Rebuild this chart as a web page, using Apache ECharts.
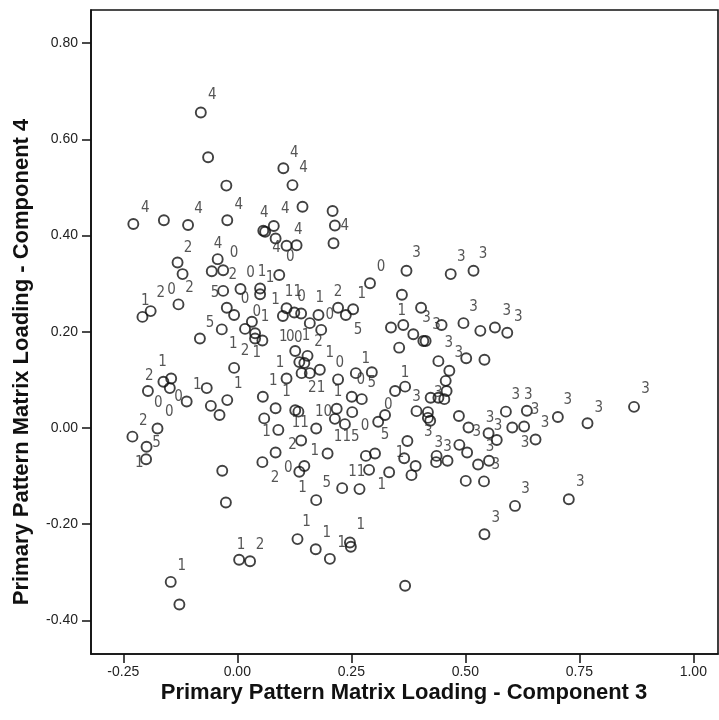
<!DOCTYPE html>
<html><head><meta charset="utf-8">
<script src="https://cdn.jsdelivr.net/npm/echarts@6/dist/echarts.min.js"></script>
<style>html,body{margin:0;padding:0;background:#fff}#c{width:719px;height:720px}</style>
</head><body><div id="c"></div>
<script>
const xTickValues = [-0.25, 0, 0.25, 0.5, 0.75, 1.0];
const yTickValues = [-0.4, -0.2, 0, 0.2, 0.4, 0.6, 0.8];
const xTitle = "Primary Pattern Matrix Loading - Component 3";
const yTitle = "Primary Pattern Matrix Loading - Component 4";

const xValues = [-0.080,-0.064,-0.024,-0.228,-0.161,-0.108,-0.022,0.101,0.121,0.143,
0.057,0.061,0.080,0.084,0.108,0.130,-0.131,-0.043,0.209,0.214,
0.211,-0.120,-0.056,-0.031,0.092,-0.208,-0.190,-0.129,-0.031,0.007,
0.050,0.050,-0.023,-0.007,0.032,0.017,0.039,0.039,0.055,-0.034,
-0.082,0.108,0.100,0.125,0.140,0.127,-0.007,-0.162,-0.145,-0.148,
-0.196,-0.111,-0.067,-0.022,-0.058,-0.039,0.056,0.084,0.059,0.108,
0.141,0.136,-0.175,-0.230,0.090,0.127,0.134,0.371,0.468,0.518,
0.291,0.361,0.221,0.238,0.254,0.178,0.159,0.184,0.364,0.337,
0.403,0.448,0.496,0.533,0.386,0.408,0.413,0.355,0.502,0.542,
0.441,0.154,0.147,0.159,0.181,0.221,0.260,0.295,0.368,0.346,
0.465,0.457,0.459,0.441,0.424,0.454,0.251,0.273,0.218,0.214,
0.252,0.236,0.324,0.309,0.393,0.418,0.418,0.423,0.486,0.507,
0.173,0.565,0.592,0.589,0.635,0.703,0.768,0.870,0.603,0.629,
0.551,0.654,-0.199,-0.200,-0.033,-0.025,0.004,0.028,-0.146,-0.127,
0.055,0.084,0.136,0.140,0.132,0.198,0.147,0.173,0.230,0.268,
0.289,0.282,0.302,0.333,0.373,0.366,0.391,0.382,0.437,0.436,
0.461,0.487,0.504,0.528,0.501,0.541,0.172,0.203,0.247,0.249,
0.368,0.542,0.569,0.552,0.609,0.727];
const yValues = [0.656,0.563,0.504,0.424,0.432,0.422,0.432,0.540,0.505,0.460,
0.410,0.408,0.420,0.394,0.379,0.380,0.344,0.351,0.451,0.421,
0.384,0.320,0.326,0.328,0.318,0.231,0.243,0.257,0.285,0.289,
0.290,0.278,0.250,0.235,0.221,0.206,0.197,0.186,0.182,0.205,
0.186,0.249,0.233,0.240,0.238,0.160,0.125,0.096,0.103,0.083,
0.077,0.055,0.083,0.058,0.046,0.027,0.065,0.041,0.020,0.103,
0.114,0.137,-0.001,-0.018,-0.004,0.037,0.034,0.327,0.320,0.327,
0.301,0.277,0.250,0.235,0.247,0.235,0.218,0.204,0.214,0.209,
0.250,0.214,0.218,0.202,0.195,0.181,0.181,0.167,0.145,0.142,
0.139,0.150,0.135,0.114,0.121,0.101,0.114,0.116,0.086,0.077,
0.119,0.098,0.077,0.063,0.063,0.060,0.065,0.060,0.040,0.019,
0.033,0.008,0.027,0.013,0.035,0.033,0.021,0.015,0.025,0.001,
-0.001,0.209,0.198,0.034,0.036,0.023,0.010,0.044,0.001,0.003,
-0.011,-0.024,-0.039,-0.065,-0.089,-0.155,-0.274,-0.277,-0.320,-0.367,
-0.071,-0.051,-0.091,-0.026,-0.231,-0.053,-0.079,-0.150,-0.125,-0.127,
-0.087,-0.058,-0.053,-0.092,-0.027,-0.063,-0.079,-0.098,-0.058,-0.071,
-0.068,-0.035,-0.051,-0.076,-0.110,-0.111,-0.252,-0.272,-0.238,-0.247,
-0.328,-0.221,-0.025,-0.068,-0.162,-0.148];

const labelX = [-0.055,-0.202,-0.085,0.003,0.125,0.145,0.059,0.105,0.134,0.086,
0.116,-0.108,-0.042,-0.007,0.236,0.393,0.491,0.539,-0.010,0.029,
0.054,0.072,-0.202,-0.168,-0.144,-0.105,-0.049,0.017,0.084,0.043,
0.061,-0.060,-0.009,0.017,0.043,0.123,0.141,0.101,0.116,0.134,
0.151,-0.164,-0.193,-0.173,-0.149,-0.129,-0.088,0.002,0.079,0.094,
0.108,-0.206,0.064,0.138,0.315,0.273,0.181,0.221,0.203,0.265,
0.178,0.361,0.415,0.437,0.518,0.464,0.486,0.203,0.225,0.282,
0.271,0.295,0.368,0.174,0.393,0.441,0.221,0.189,0.331,0.240,
0.280,0.324,0.419,0.525,0.442,0.461,0.170,0.591,0.616,0.611,
0.638,0.653,0.725,0.793,0.895,0.675,0.554,0.572,0.554,0.631,
-0.177,-0.215,0.008,0.050,-0.122,0.083,0.112,0.143,0.121,0.196,
0.262,0.317,0.357,0.152,0.196,0.229,0.271,0.567,0.632,0.752,
0.567];
const labelY = [0.692,0.457,0.455,0.464,0.572,0.540,0.446,0.455,0.412,0.374,
0.356,0.374,0.383,0.363,0.419,0.363,0.356,0.362,0.318,0.322,
0.325,0.312,0.263,0.280,0.287,0.290,0.280,0.268,0.266,0.241,
0.231,0.218,0.174,0.159,0.155,0.283,0.273,0.190,0.188,0.186,
0.191,0.137,0.107,0.051,0.034,0.065,0.089,0.091,0.098,0.135,
0.075,0.015,-0.008,0.010,0.335,0.278,0.270,0.282,0.235,0.204,
0.179,0.242,0.229,0.214,0.252,0.176,0.155,0.155,0.135,0.143,
0.100,0.093,0.114,0.083,0.065,0.072,0.075,0.034,0.048,-0.018,
0.003,-0.015,-0.008,-0.008,-0.032,-0.039,-0.049,0.242,0.231,0.069,
0.069,0.037,0.058,0.041,0.080,0.010,0.020,0.003,-0.039,-0.031,
-0.032,-0.073,-0.243,-0.243,-0.288,-0.105,-0.084,-0.125,-0.035,-0.115,
-0.091,-0.119,-0.053,-0.195,-0.219,-0.240,-0.202,-0.077,-0.127,-0.112,
-0.188];
const labelText = ["4","4","4","4","4","4","4","4","4","4",
"0","2","4","0","4","3","3","3","2","0",
"1","1","1","2","0","2","5","0","1","0",
"1","5","1","2","1","11","0","1","0","0",
"1","1","2","0","0","0","1","1","1","1",
"1","2","1","11","0","1","1","2","0","5",
"2","1","3","3","3","3","3","1","0","1",
"0","5","1","21","3","3","1","10","0","115",
"0","5","3","3","3","3","1","3","3","3",
"3","3","3","3","3","3","3","3","3","3",
"5","1","1","2","1","2","0","1","2","5",
"11","1","1","1","1","1","1","3","3","3",
"3"];

const pointData = xValues.map((x, i) => [x, yValues[i]]);
const labelData = labelX.map((x, i) => [x, labelY[i], labelText[i]]);

const labelFont = '"DejaVu Sans Condensed", "Liberation Sans", Arial, sans-serif';
const axisFont = '"Liberation Sans", Arial, sans-serif';
const titleFont = 'bold 22px "Liberation Sans", Arial, sans-serif';

const chart = echarts.init(document.getElementById('c'), null, {renderer: 'canvas'});
chart.setOption({
  animation: false,
  backgroundColor: '#fff',
  grid: {left: 91, right: 1, top: 10, bottom: 66, show: true, borderColor: '#111', borderWidth: 1.6, backgroundColor: 'transparent'},
  xAxis: {
    type: 'value', min: (91 - 237.3) / 456, max: (718 - 237.3) / 456,
    splitLine: {show: false},
    axisLine: {onZero: false, lineStyle: {color: '#111', width: 1.6}},
    axisTick: {show: true, length: 9, customValues: xTickValues, lineStyle: {color: '#111', width: 1.5}},
    axisLabel: {customValues: xTickValues, margin: 11, color: '#222', fontFamily: axisFont, fontSize: 14,
      formatter: v => v.toFixed(2)}
  },
  yAxis: {
    type: 'value', min: (428 - 654) / 481, max: (428 - 10) / 481,
    splitLine: {show: false},
    axisLine: {onZero: false, lineStyle: {color: '#111', width: 1.6}},
    axisTick: {show: true, length: 9, customValues: yTickValues, lineStyle: {color: '#111', width: 1.5}},
    axisLabel: {customValues: yTickValues, margin: 13, color: '#222', fontFamily: axisFont, fontSize: 14,
      formatter: v => v.toFixed(2)}
  },
  graphic: [
    {type: 'text', x: 404, y: 693, style: {text: xTitle, font: titleFont, fill: '#111', textAlign: 'center', textVerticalAlign: 'middle'}},
    {type: 'text', x: 22, y: 362, rotation: Math.PI / 2, style: {text: yTitle, font: titleFont, fill: '#111', textAlign: 'center', textVerticalAlign: 'middle'}}
  ],
  series: [
    {
      type: 'scatter', data: pointData, symbol: 'circle', symbolSize: 10,
      itemStyle: {color: 'rgba(0,0,0,0)', borderColor: '#111', borderWidth: 1.9},
      silent: true, z: 3
    },
    {
      type: 'scatter', data: labelData, symbolSize: 1,
      itemStyle: {color: 'rgba(0,0,0,0)'},
      label: {show: true, position: 'inside', formatter: p => p.value[2], color: '#2a2a2a', fontFamily: labelFont, fontSize: 15},
      silent: true, z: 4
    }
  ]
});
</script></body></html>
